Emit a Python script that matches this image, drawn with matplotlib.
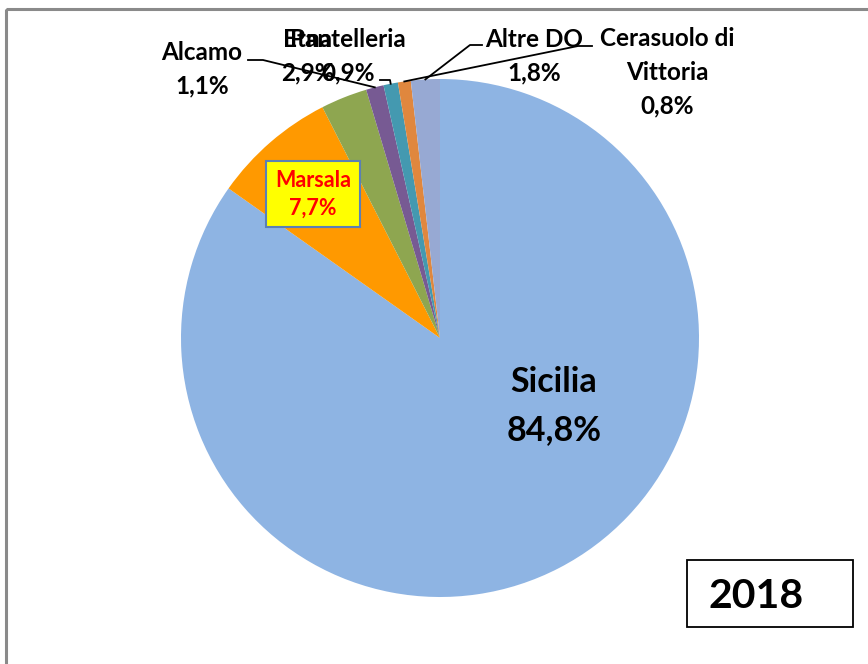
import numpy as np
import matplotlib.pyplot as plt
from matplotlib.patches import Rectangle

plt.rcParams['font.family'] = ['Lato', 'DejaVu Sans']

# data, clockwise from 12 o'clock
labels = ["Sicilia", "Marsala", "Etna", "Alcamo", "Pantelleria",
          "Cerasuolo di\nVittoria", "Altre DO"]
shares = [84.8, 7.7, 2.9, 1.1, 0.9, 0.8, 1.8]
colors = ["#8EB4E3", "#FF9900", "#8EA650", "#775A93", "#4499B0",
          "#E0873E", "#97A9D3"]
year = "2018"

W, H = 868, 664
cx, cy, R = 440, 338, 259

fig = plt.figure(figsize=(W / 100, H / 100), dpi=100)
ax = fig.add_axes([0, 0, 1, 1])

# y axis is flipped (pixel coords), so counterclock=True draws clockwise
ax.pie(shares, colors=colors, startangle=270, counterclock=True,
       center=(cx, cy), radius=R, wedgeprops=dict(linewidth=0))
ax.set_xlim(0, W)
ax.set_ylim(H, 0)
ax.set_aspect("auto")
ax.axis("off")

fr = np.array(shares) / sum(shares)
mids = np.cumsum(fr) - fr / 2


def arc_point(f):
    a = 2 * np.pi * f
    return cx + R * np.sin(a), cy - R * np.cos(a)


def pct(v):
    return f"{v:.1f}%".replace(".", ",")


txt = dict(fontsize=17.5, fontweight="bold", ha="center", va="center",
           linespacing=1.55, color="black")

# Sicilia inside
ax.text(554, 406, f"{labels[0]}\n{pct(shares[0])}", fontsize=24.5,
        fontweight="bold", ha="center", va="center", linespacing=1.65)

# Marsala boxed
ax.text(313, 194, f"{labels[1]}\n{pct(shares[1])}", fontsize=15.5,
        fontweight="bold", color="red", ha="center", va="center",
        linespacing=1.4,
        bbox=dict(boxstyle="square,pad=0.4", facecolor="#FFFF00",
                  edgecolor="#5A80B5", linewidth=1.5))

# outside labels (Etna and Pantelleria overlap as in the source chart)
ax.text(308, 56, f"{labels[2]}\n{pct(shares[2])}", **txt)
ax.text(202, 69, f"{labels[3]}\n{pct(shares[3])}", **txt)
ax.text(348, 56, f"{labels[4]}\n{pct(shares[4])}", **txt)
ax.text(667, 72, f"{labels[5]}\n{pct(shares[5])}", **txt)
ax.text(534, 56, f"{labels[6]}\n{pct(shares[6])}", **txt)

# leader lines
leaders = {3: [(248, 60), (263, 60)],
           4: [(380, 80), (390, 80)],
           6: [(482, 45), (470, 45)],
           5: [(592, 46), (578, 46)]}
for i, pts in leaders.items():
    ex, ey = arc_point(mids[i])
    xs = [p[0] for p in pts] + [ex]
    ys = [p[1] for p in pts] + [ey]
    ax.plot(xs, ys, color="black", linewidth=1.3)

# year box
ax.add_patch(Rectangle((687, 560), 166, 67, facecolor="white",
                       edgecolor="black", linewidth=1.3))
ax.text(756, 597, year, fontsize=29.5, fontweight="bold",
        ha="center", va="center")

# chart frame
ax.add_patch(Rectangle((6, 9), W + 10, H + 10, facecolor="none",
                       edgecolor="#8A8A8A", linewidth=2.2, clip_on=False))

fig.savefig("out.png", dpi=100)
